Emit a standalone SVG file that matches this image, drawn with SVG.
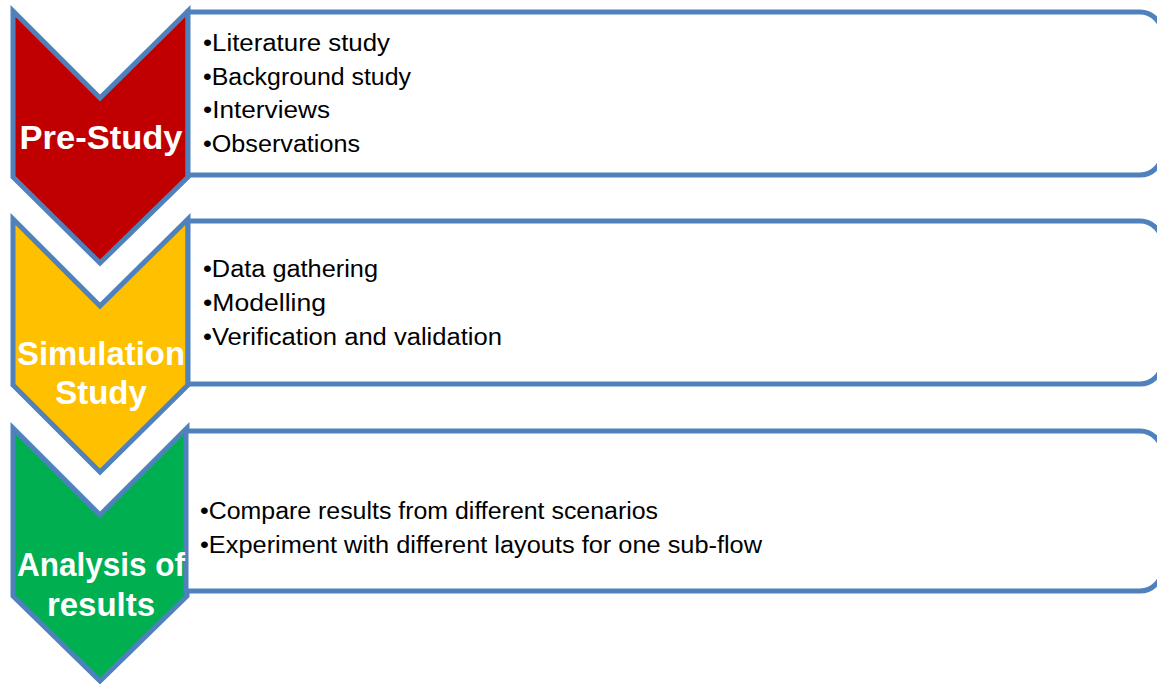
<svg xmlns="http://www.w3.org/2000/svg" width="1157" height="684" viewBox="0 0 1157 684">
<style>
.chev{stroke:#4F81BD;stroke-width:5;stroke-linejoin:miter}
.box{fill:#FFFFFF;stroke:#4F81BD;stroke-width:5}
.lbl{font-family:"Liberation Sans",Arial,sans-serif;font-weight:bold;font-size:33px;fill:#FFFFFF;text-anchor:middle}
.item{font-family:"Liberation Sans",Arial,sans-serif;font-size:23px;fill:#000000}
</style>
<rect width="1157" height="684" fill="#FFFFFF"/>
<g id="stage1">
<path class="chev" fill="#C00000" d="M13,11 L100,98 L188,11 L188,177 L100,263 L13,177 Z"/>
<path class="box" d="M188,12 H1140 A22,22 0 0 1 1162,34 V153 A22,22 0 0 1 1140,175 H188 Z"/>
<text class="lbl" x="101" y="149" textLength="163" lengthAdjust="spacingAndGlyphs">Pre-Study</text>
<text class="item" x="203" y="51" textLength="187" lengthAdjust="spacingAndGlyphs">•Literature study</text>
<text class="item" x="203" y="85" textLength="208" lengthAdjust="spacingAndGlyphs">•Background study</text>
<text class="item" x="203" y="118" textLength="127" lengthAdjust="spacingAndGlyphs">•Interviews</text>
<text class="item" x="203" y="152" textLength="157" lengthAdjust="spacingAndGlyphs">•Observations</text>
</g>
<g id="stage2">
<path class="chev" fill="#FFC000" d="M13,219 L100,306 L188,219 L188,385 L100,472 L13,385 Z"/>
<path class="box" d="M188,221 H1140 A22,22 0 0 1 1162,243 V362 A22,22 0 0 1 1140,384 H188 Z"/>
<text class="lbl" x="101" y="365" textLength="168" lengthAdjust="spacingAndGlyphs">Simulation</text>
<text class="lbl" x="101" y="404">Study</text>
<text class="item" x="203" y="277" textLength="175" lengthAdjust="spacingAndGlyphs">•Data gathering</text>
<text class="item" x="203" y="311" textLength="123" lengthAdjust="spacingAndGlyphs">•Modelling</text>
<text class="item" x="203" y="345" textLength="299" lengthAdjust="spacingAndGlyphs">•Verification and validation</text>
</g>
<g id="stage3">
<path class="chev" fill="#00B050" d="M13,428 L100,515 L187,428 L187,596 L100,681 L13,596 Z"/>
<path class="box" d="M186,431 H1140 A22,22 0 0 1 1162,453 V569 A22,22 0 0 1 1140,591 H186 Z"/>
<text class="lbl" x="101" y="576" textLength="168" lengthAdjust="spacingAndGlyphs">Analysis of</text>
<text class="lbl" x="101" y="616">results</text>
<text class="item" x="200" y="519" textLength="458" lengthAdjust="spacingAndGlyphs">•Compare results from different scenarios</text>
<text class="item" x="200" y="553" textLength="562" lengthAdjust="spacingAndGlyphs">•Experiment with different layouts for one sub-flow</text>
</g>
<g id="connectors"></g>
</svg>
